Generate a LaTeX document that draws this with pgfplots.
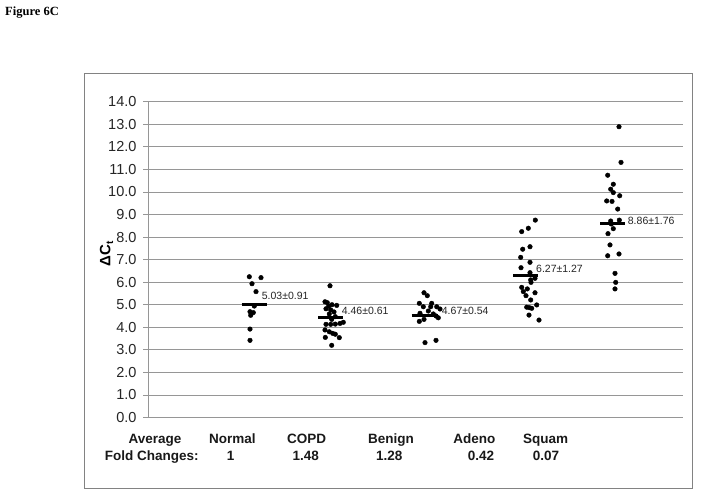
\documentclass[border=0pt]{standalone}
\usepackage{pgfplots}
\pgfplotsset{compat=1.18}
\usepackage{pgfplotstable}
\usepackage{fontspec}
\setmainfont{Liberation Sans}
\newfontfamily\timesfont{Liberation Serif}
\definecolor{gridgray}{RGB}{150,150,150}
\definecolor{framegray}{RGB}{130,130,130}

\pgfplotstableread{
x y
249.3 6.24
261.0 6.20
252.0 5.93
256.0 5.58
254.3 4.94
250.0 4.69
253.3 4.65
250.7 4.53
250.0 3.92
250.0 3.42
}\normaldata
\pgfplotstableread{
x y
330.0 5.84
325.0 5.13
327.3 5.09
328.7 4.94
332.0 5.00
336.7 4.97
326.0 4.82
330.7 4.77
334.0 4.68
329.3 4.59
335.3 4.47
331.7 4.35
326.0 4.13
330.7 4.13
335.3 4.14
340.0 4.17
343.3 4.22
325.0 3.88
329.3 3.80
332.7 3.73
335.3 3.69
325.3 3.55
339.3 3.54
331.7 3.20
}\copddata
\pgfplotstableread{
x y
424.0 5.53
427.3 5.40
419.3 5.06
423.3 4.91
431.7 5.06
430.7 4.91
436.7 4.91
440.0 4.81
420.0 4.62
428.3 4.72
433.3 4.59
436.0 4.50
438.3 4.42
419.3 4.26
424.0 4.35
425.0 3.32
436.0 3.42
}\benigndata
\pgfplotstableread{
x y
535.3 8.75
521.7 8.24
528.3 8.39
522.7 7.46
530.0 7.57
520.7 7.10
530.0 6.88
521.0 6.64
530.0 6.42
535.0 6.17
530.7 6.10
531.0 5.99
521.7 5.77
527.3 5.70
523.3 5.58
535.0 5.53
526.0 5.40
530.7 5.21
536.7 4.99
526.7 4.89
529.3 4.87
531.7 4.84
529.0 4.54
539.0 4.32
}\adenodata
\pgfplotstableread{
x y
619.0 12.89
621.0 11.31
607.7 10.74
613.3 10.34
610.7 10.12
613.3 9.97
619.7 9.83
606.7 9.60
612.0 9.58
617.7 9.24
610.7 8.71
619.3 8.75
611.3 8.58
613.3 8.37
608.0 8.15
610.0 7.65
607.7 7.17
619.0 7.25
615.0 6.39
615.7 5.99
615.0 5.70
}\squamdata

\begin{document}
\begin{tikzpicture}[x=1pt,y=1pt]
\useasboundingbox (0,0) rectangle (701,494);
\fill[white] (0,0) rectangle (701,494);
\draw[framegray, line width=1pt] (84.7,5.7) rectangle (692.3,420.7);
\node[anchor=north west, inner sep=0pt, font=\timesfont\bfseries\fontsize{12.5}{12.5}\selectfont] at (5,487) {Figure 6C};
\begin{axis}[
  scale only axis,
  width=535pt, height=315.8pt,
  at={(148pt,76.5pt)}, anchor=south west,
  xmin=148, xmax=683, ymin=0, ymax=14,
  axis lines=left,
  axis line style={gridgray, line width=0.8pt, -},
  x axis line style={draw=none},
  xtick=\empty,
  ytick={0,1,...,14},
  ymajorgrids,
  grid style={gridgray, line width=0.8pt},
  major tick length=5pt,
  tick align=outside,
  ytick style={gridgray, line width=0.8pt},
  /pgf/number format/assume math mode=true,
  /pgf/number format/.cd, fixed, fixed zerofill, precision=1,
  /pgfplots/.cd,
  yticklabel style={font=\fontsize{14.5}{14.5}\selectfont, text=black!85, xshift=-3pt},
  clip=false,
]
\addplot[only marks, mark=*, mark size=2.3pt, black] table {\normaldata};
\addplot[only marks, mark=*, mark size=2.3pt, black] table {\copddata};
\addplot[only marks, mark=*, mark size=2.3pt, black] table {\benigndata};
\addplot[only marks, mark=*, mark size=2.3pt, black] table {\adenodata};
\addplot[only marks, mark=*, mark size=2.3pt, black] table {\squamdata};
\addplot[black, line width=3pt, no marks] coordinates {(241.7,5.03) (266.7,5.03)};
\addplot[black, line width=3pt, no marks] coordinates {(318.3,4.44) (343.3,4.44)};
\addplot[black, line width=3pt, no marks] coordinates {(411.7,4.51) (438.3,4.51)};
\addplot[black, line width=3pt, no marks] coordinates {(513,6.30) (538,6.30)};
\addplot[black, line width=3pt, no marks] coordinates {(600,8.62) (625,8.62)};
\begin{scope}[every node/.style={anchor=west, inner sep=0pt, font=\fontsize{10.5}{10.5}\selectfont, text=black!85}]
\node at (axis cs:261.7,5.40) {5.03±0.91};
\node at (axis cs:341.7,4.73) {4.46±0.61};
\node at (axis cs:441.7,4.73) {4.67±0.54};
\node at (axis cs:536,6.58) {6.27±1.27};
\node at (axis cs:627.7,8.72) {8.86±1.76};
\end{scope}
\end{axis}
\node[rotate=90, inner sep=0pt, font=\bfseries\fontsize{15}{15}\selectfont] at (106.5,240) {ΔC\raisebox{-0.35ex}{\fontsize{10}{10}\selectfont t}};
\begin{scope}[every node/.style={anchor=base, inner sep=0pt, font=\bfseries\fontsize{13.5}{13.5}\selectfont, text=black!90}]
\node at (155,50) {Average};
\node at (232.3,50) {Normal};
\node at (306.7,50) {COPD};
\node at (391,50) {Benign};
\node at (474.3,50) {Adeno};
\node at (545.7,50) {Squam};
\node at (151.7,33.3) {Fold Changes:};
\node at (230.7,33.3) {1};
\node at (305.7,33.3) {1.48};
\node at (389.3,33.3) {1.28};
\node at (481,33.3) {0.42};
\node at (546,33.3) {0.07};
\end{scope}
\end{tikzpicture}
\end{document}
